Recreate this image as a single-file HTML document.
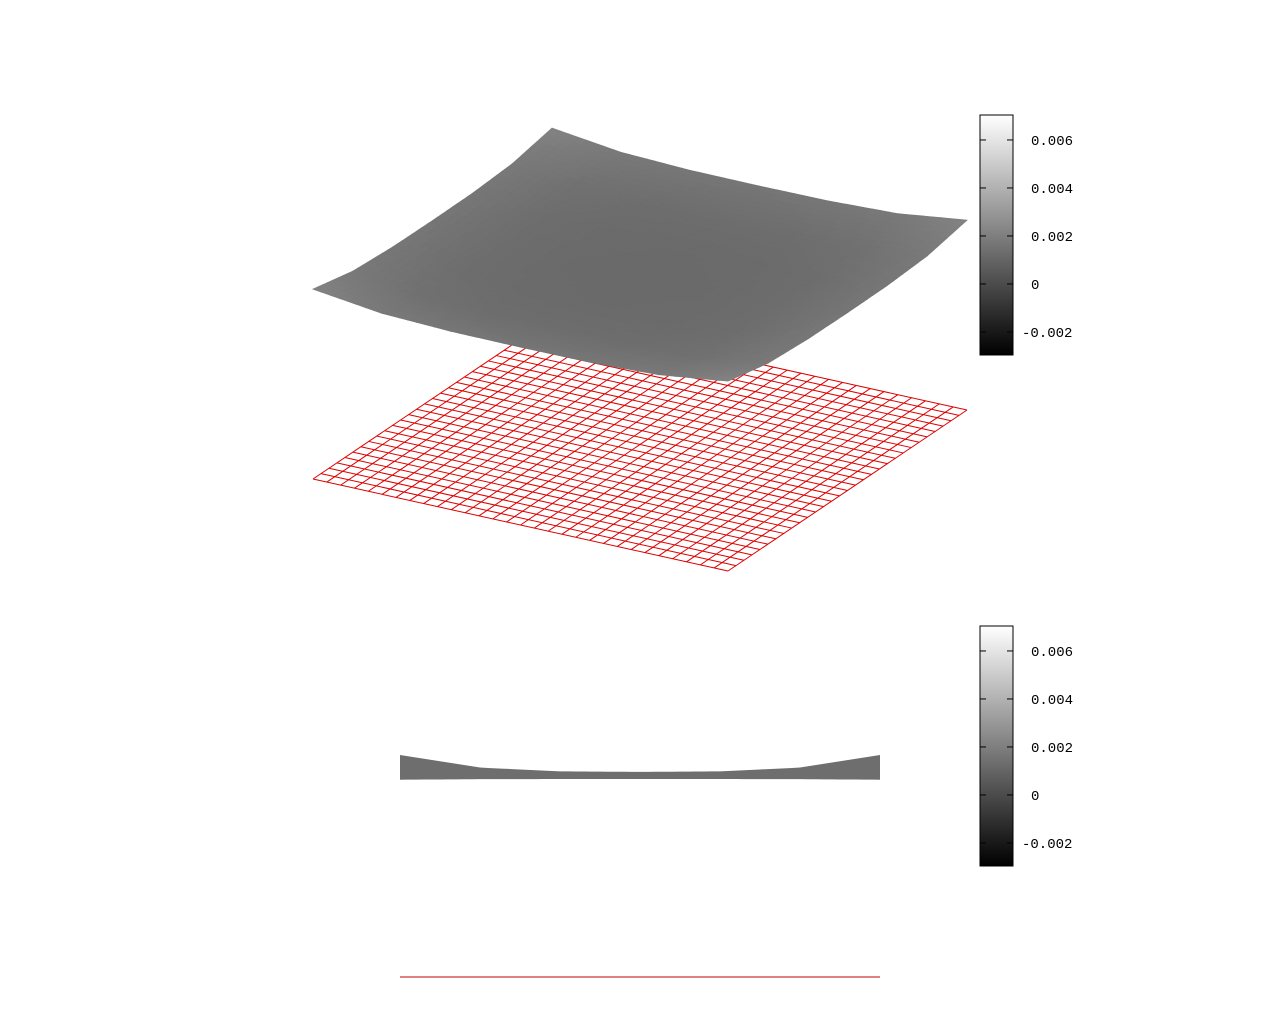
<!DOCTYPE html>
<html><head><meta charset="utf-8"><style>
html,body{margin:0;padding:0;background:#fff;}
svg{display:block;}
text{font-family:"Liberation Mono",monospace;font-size:14px;fill:#000;}
</style></head><body>
<svg id="chart" width="1280" height="1024" viewBox="0 0 1280 1024" xmlns="http://www.w3.org/2000/svg">
<defs><linearGradient id="cg" x1="0" y1="1" x2="0" y2="0"><stop offset="0" stop-color="#000"/><stop offset="1" stop-color="#fff"/></linearGradient></defs>
<g id="mesh"></g>
<g id="surf"></g>
<g id="side"></g>
<line x1="400" y1="977" x2="880" y2="977" stroke="#c00000" stroke-width="1"/>
<g id="cb1"></g>
<g id="cb2"></g>
</svg>
<script>
// surface heights (×1e-3) on a 7×7 grid
const zRow0 = [4.5,3.2,2.81,2.75,2.81,3.2,4.5];
const zRow1 = [3.2,1.9,1.51,1.45,1.51,1.9,3.2];
const zRow2 = [2.81,1.51,1.12,1.06,1.12,1.51,2.81];
const zRow3 = [2.75,1.45,1.06,1.0,1.06,1.45,2.75];
const zGrid = [zRow0,zRow1,zRow2,zRow3,zRow2,zRow1,zRow0];
const colorTicks = [0.006,0.004,0.002,0,-0.002];
const colorTickLabels = ["0.006","0.004","0.002","0","-0.002"];
const meshCells = 30;

(function(){
const NS="http://www.w3.org/2000/svg";
function mk(tag,attrs,parent){const e=document.createElementNS(NS,tag);for(const k in attrs)e.setAttribute(k,attrs[k]);parent.appendChild(e);return e;}
const O=[313,479], U=[415,92], V=[239,-161];
function base(u,v){return [O[0]+U[0]*u+V[0]*v, O[1]+U[1]*u+V[1]*v];}
const zScale=6860, zBase=159;
function zAt(u,v){const n=zGrid.length-1;let fi=u*n,fj=v*n;let i=Math.min(Math.floor(fi),n-1),j=Math.min(Math.floor(fj),n-1);const a=fi-i,b=fj-j;
 const z=zGrid[i][j]*(1-a)*(1-b)+zGrid[i+1][j]*a*(1-b)+zGrid[i][j+1]*(1-a)*b+zGrid[i+1][j+1]*a*b;return z/1000;}
function surfPt(u,v){const p=base(u,v);return [p[0],p[1]-(zBase+zAt(u,v)*zScale)];}

const mesh=document.getElementById('mesh');
for(let k=0;k<=meshCells;k++){const t=k/meshCells;
 let a=base(t,0),b=base(t,1);
 let l=mk('line',{x1:a[0],y1:a[1],x2:b[0],y2:b[1],stroke:'#dd0000','stroke-width':1},mesh);
 
 
 a=base(0,t);b=base(1,t);
 l=mk('line',{x1:a[0],y1:a[1],x2:b[0],y2:b[1],stroke:'#dd0000','stroke-width':1},mesh);
 
 }

const surf=document.getElementById('surf');const N=48;
function grayFor(z){const g=Math.round(106+(z-0.001)/0.0035*24);return `rgb(${g},${g},${g})`;}
for(let i=0;i<N;i++)for(let j=N-1;j>=0;j--){
 const u0=i/N,u1=(i+1)/N,v0=j/N,v1=(j+1)/N;
 const p=[surfPt(u0,v0),surfPt(u1,v0),surfPt(u1,v1),surfPt(u0,v1)];
 const c=grayFor(zAt((u0+u1)/2,(v0+v1)/2));
 const q=mk('polygon',{points:p.map(x=>x.join(',')).join(' '),fill:c,stroke:c,'stroke-width':0.8},surf);
 
 }

const side=document.getElementById('side');const X0=400,X1=880;
const sideScale=9700, sideBase=798.6, sideBottom=779;
const upper=[],lower=[];const M=60;
for(let k=0;k<=M;k++){const v=k/M;let mx=-1,mn=1;for(let s=0;s<=24;s++){const z=zAt(s/24,v);mx=Math.max(mx,z);mn=Math.min(mn,z);}
 const x=X0+(X1-X0)*v;upper.push([x,sideBase-mx*sideScale]);lower.push([x,sideBottom+(mn-0.001)*400]);}
const sp=mk('polygon',{points:upper.concat(lower.reverse()).map(x=>x.join(',')).join(' '),fill:'#6e6e6e'},side);



function colorbar(g,y0){const x=980,w=33,h=240,vmax=0.00704,vmin=-0.00296;
 mk('rect',{x:x,y:y0,width:w,height:h,fill:'url(#cg)',stroke:'#000','stroke-width':1},g);
 colorTicks.forEach((t,k)=>{const y=y0+(vmax-t)/(vmax-vmin)*h;
  mk('line',{x1:x,y1:y,x2:x+6,y2:y,stroke:'#000'},g);mk('line',{x1:x+w-6,y1:y,x2:x+w,y2:y,stroke:'#000'},g);
  const tx=mk('text',{x:1031-(colorTickLabels[k][0]==='-'?9:0),y:y+5},g);tx.textContent=colorTickLabels[k];
  
  });}
colorbar(document.getElementById('cb1'),115);
colorbar(document.getElementById('cb2'),626);
})();
</script>
</body></html>
